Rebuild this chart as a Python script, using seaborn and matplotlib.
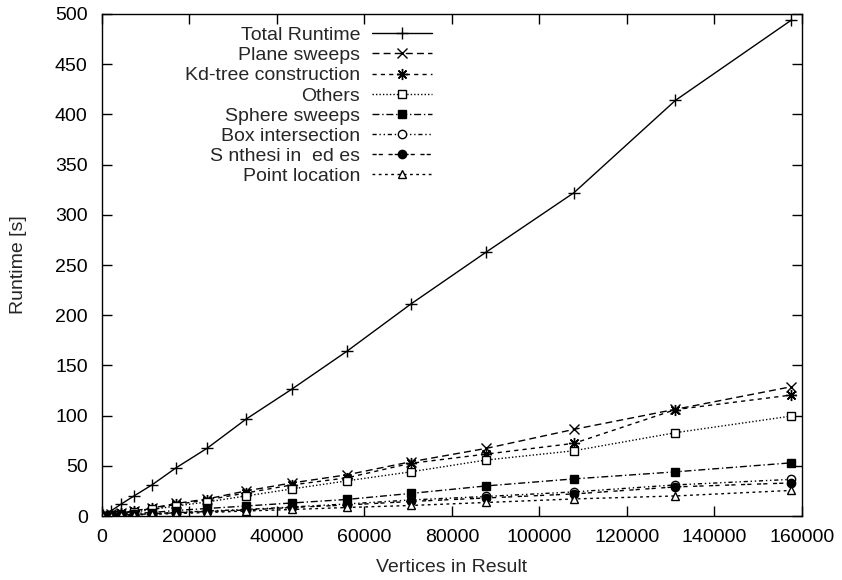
import matplotlib
matplotlib.use("Agg")
import matplotlib.pyplot as plt
import seaborn as sns
import numpy as np
import pandas as pd

font_size = 14

sns.set_style("ticks")
plt.rcParams["font.family"] = ["Liberation Sans", "DejaVu Sans"]
plt.rcParams["xtick.direction"] = "in"
plt.rcParams["ytick.direction"] = "in"
plt.rcParams["xtick.top"] = True
plt.rcParams["ytick.right"] = True

# values (vertices, seconds)
vertices = [300, 2100, 4500, 7400, 11500, 17000, 24100, 33000, 43500,
            56000, 70600, 87900, 107900, 131100, 157600]
total = [1, 5, 12, 20, 31, 48, 67.5, 96.5, 126.5, 164, 211, 263, 322, 414, 494]
plane = [0.3, 1.7, 3, 5.2, 8, 12.5, 17, 25, 33, 41, 54, 67.4, 86.3, 106.3, 128.8]
kdtree = [0.2, 1.5, 2.8, 4.8, 7.5, 11.5, 16, 23, 31, 38, 52.5, 61.7, 72.4, 106, 120.5]
others = [0.2, 1.3, 2.5, 4, 6.5, 10, 14, 20, 27, 35, 44, 55.8, 65, 83, 99.6]
sphere = [0.1, 0.7, 1.5, 2.5, 3.5, 5.5, 7.5, 10, 13, 16.5, 22.5, 30, 37, 44, 53]
box = [0.1, 0.5, 1, 1.6, 2.5, 3.5, 5, 6.5, 9, 12, 16, 19.5, 24, 31, 36.5]
synth = [0.1, 0.4, 0.9, 1.5, 2.2, 3.2, 4.5, 6, 8.5, 11, 14.5, 18, 22, 29, 33]
point = [0.05, 0.3, 0.7, 1.1, 1.7, 2.5, 3.5, 5, 6.5, 8.5, 10.5, 13.5, 17, 20, 25.5]

labels = ["Total Runtime", "Plane sweeps", "Kd-tree construction", "Others",
          "Sphere sweeps", "Box intersection", "S nthesi in  ed es", "Point location"]
series = [total, plane, kdtree, others, sphere, box, synth, point]

# (linestyle, marker, markersize, filled)
styles = [
    ("-", "+", 8, True),
    ((0, (5, 3)), "x", 7, True),
    ((0, (3, 3)), (8, 2, 0), 8, True),
    ((0, (1, 1.5)), "s", 6, False),
    ((0, (5, 2, 1, 2)), "s", 6, True),
    ((0, (3, 2, 1, 2, 1, 2)), "o", 6, False),
    ((0, (3, 1.5, 3, 4)), "o", 6, True),
    ((0, (2, 2.5)), "^", 6, False),
]

fig = plt.figure(figsize=(8.42, 5.8), dpi=100)
ax = fig.add_axes([0.1207, 0.1103, 0.8318, 0.8656])

for name, vals, (ls, mk, ms, filled) in zip(labels, series, styles):
    df = pd.DataFrame({"Vertices": vertices, "Runtime": vals})
    sns.lineplot(
        data=df,
        x="Vertices",
        y="Runtime",
        ax=ax,
        color="black",
        linestyle=ls,
        linewidth=1.0,
        marker=mk,
        markersize=ms,
        markerfacecolor="black" if filled else "white",
        markeredgecolor="black",
        markeredgewidth=1.0,
        label=name,
        errorbar=None,
    )

ax.set_xlim(0, 160000)
ax.set_ylim(0, 500)
ax.set_xticks(np.arange(0, 160001, 20000))
ax.set_yticks(np.arange(0, 501, 50))
ax.tick_params(axis="x", labelsize=font_size, length=7, width=1, colors="black", pad=9)
ax.tick_params(axis="y", labelsize=font_size, length=7, width=1, colors="black", pad=10)
ax.set_xlabel("Vertices in Result", fontsize=font_size, labelpad=10)
ax.set_ylabel("Runtime [s]", fontsize=font_size, labelpad=20)
for s in ax.spines.values():
    s.set_linewidth(1.0)
    s.set_color("black")

lines, names = ax.get_legend_handles_labels()
ax.legend(
    lines,
    names,
    loc="upper right",
    bbox_to_anchor=(0.472, 0.975),
    frameon=False,
    markerfirst=False,
    fontsize=font_size,
    handlelength=3.1,
    handletextpad=0.6,
    labelspacing=0.13,
    borderpad=0,
    borderaxespad=0,
)

fig.savefig("out.png", dpi=100)
